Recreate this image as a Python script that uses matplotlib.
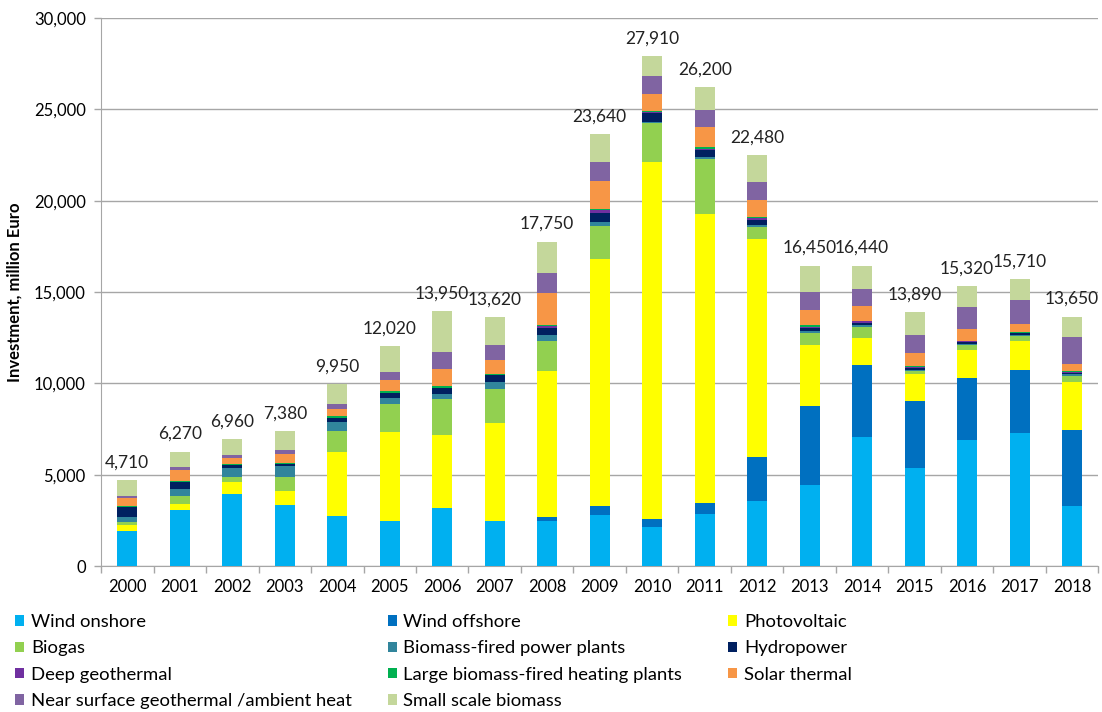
import numpy as np
import matplotlib
matplotlib.use("Agg")
from matplotlib import pyplot as plt
from matplotlib.patches import Patch
from matplotlib.ticker import FuncFormatter, FixedLocator

plt.rcParams['font.family'] = ['Lato', 'DejaVu Sans']

years = [str(y) for y in range(2000, 2019)]

# investment per technology, million Euro
wind_onshore = [1940, 3070, 3930, 3360, 2720, 2470, 3170, 2470, 2490, 2770,
                2130, 2830, 3570, 4450, 7070, 5370, 6900, 7270, 3260]
wind_offshore = [0, 0, 0, 0, 0, 0, 0, 0, 220, 530,
                 440, 640, 2420, 4300, 3940, 3660, 3370, 3440, 4190]
photovoltaic = [290, 350, 680, 750, 3500, 4860, 4030, 5370, 7990, 13500,
                19540, 15790, 11910, 3370, 1460, 1500, 1560, 1630, 2620]
biogas = [200, 420, 250, 770, 1180, 1550, 1960, 1870, 1630, 1820,
          2120, 3000, 650, 630, 630, 150, 260, 260, 330]
biomass_power = [260, 360, 530, 600, 510, 330, 270, 360, 330, 190,
                 90, 130, 110, 90, 110, 50, 70, 60, 90]
hydropower = [550, 410, 150, 130, 220, 280, 330, 390, 360, 510,
              480, 390, 290, 180, 120, 110, 90, 70, 100]
deep_geothermal = [0, 0, 0, 0, 0, 0, 0, 0, 130, 150,
                   70, 70, 80, 80, 60, 60, 60, 40, 50]
large_biomass_heat = [30, 50, 40, 50, 60, 90, 90, 60, 40, 90,
                      60, 110, 70, 70, 50, 30, 30, 30, 60]
solar_thermal = [440, 610, 330, 500, 400, 620, 920, 760, 1740, 1510,
                 920, 1080, 960, 860, 770, 750, 630, 460, 380]
near_surface_geo = [130, 130, 160, 200, 270, 420, 970, 840, 1130, 1040,
                    950, 920, 950, 950, 950, 980, 1190, 1320, 1450]
small_biomass = [870, 870, 890, 1020, 1090, 1400, 2210, 1500, 1690, 1530,
                 1110, 1240, 1470, 1470, 1280, 1230, 1160, 1130, 1120]

totals = [4710, 6270, 6960, 7380, 9950, 12020, 13950, 13620, 17750, 23640,
          27910, 26200, 22480, 16450, 16440, 13890, 15320, 15710, 13650]

series = [
    ("Wind onshore", wind_onshore, "#00B0F0"),
    ("Wind offshore", wind_offshore, "#0070C0"),
    ("Photovoltaic", photovoltaic, "#FFFF00"),
    ("Biogas", biogas, "#92D050"),
    ("Biomass-fired power plants", biomass_power, "#31859C"),
    ("Hydropower", hydropower, "#002060"),
    ("Deep geothermal", deep_geothermal, "#7030A0"),
    ("Large biomass-fired heating plants", large_biomass_heat, "#00B050"),
    ("Solar thermal", solar_thermal, "#F79646"),
    ("Near surface geothermal /ambient heat", near_surface_geo, "#8064A2"),
    ("Small scale biomass", small_biomass, "#C4D79B"),
]

fig = plt.figure(figsize=(11.02, 7.12), dpi=100)
ax = fig.add_axes([0.0917, 0.205, 0.905, 0.7697])

x = np.arange(len(years))
bottom = np.zeros(len(years))
for name, vals, col in series:
    vals = np.array(vals, dtype=float)
    ax.bar(x, vals, width=0.38, bottom=bottom, color=col, linewidth=0, label=name, zorder=3)
    bottom += vals

# totals above the bars
for xi, top, tot in zip(x, bottom, totals):
    ax.annotate(f"{tot:,}", (xi, top), xytext=(0, 7), textcoords="offset points",
                ha="center", va="bottom", fontsize=12.5, color="#222222")

ax.set_xlim(-0.5, len(years) - 0.5)
ax.set_ylim(0, 30000)
ax.set_yticks(range(0, 30001, 5000))
ax.yaxis.set_major_formatter(FuncFormatter(lambda v, p: f"{int(v):,}"))
ax.set_xticks(x)
ax.set_xticklabels(years)
ax.xaxis.set_minor_locator(FixedLocator(np.arange(-0.5, len(years), 1.0)))
ax.tick_params(axis="x", which="major", length=0, pad=9, labelsize=12)
ax.tick_params(axis="x", which="minor", length=5, color="#A6A6A6", width=1)
ax.tick_params(axis="y", length=5, color="#A6A6A6", width=1, labelsize=12, pad=6)

ax.grid(axis="y", color="#A6A6A6", linewidth=1, zorder=0)
for s in ["top", "right"]:
    ax.spines[s].set_visible(False)
ax.spines["left"].set_color("#A6A6A6")
ax.spines["bottom"].set_color("#A6A6A6")

ax.set_ylabel("Investment, million Euro", fontsize=12, fontweight="bold", labelpad=8)

# legend in three fixed columns, filled row by row
handles = [Patch(facecolor=c, edgecolor="none", label=n) for n, _, c in series]
col_x = [0.007, 0.345, 0.654]
for i in range(3):
    leg = fig.legend(handles=handles[i::3], loc="upper left", bbox_to_anchor=(col_x[i], 0.148),
                     frameon=False, fontsize=13.3, handlelength=0.5, handleheight=0.5,
                     handletextpad=0.35, labelspacing=0.56, borderaxespad=0)

fig.savefig("out.png", dpi=100)
